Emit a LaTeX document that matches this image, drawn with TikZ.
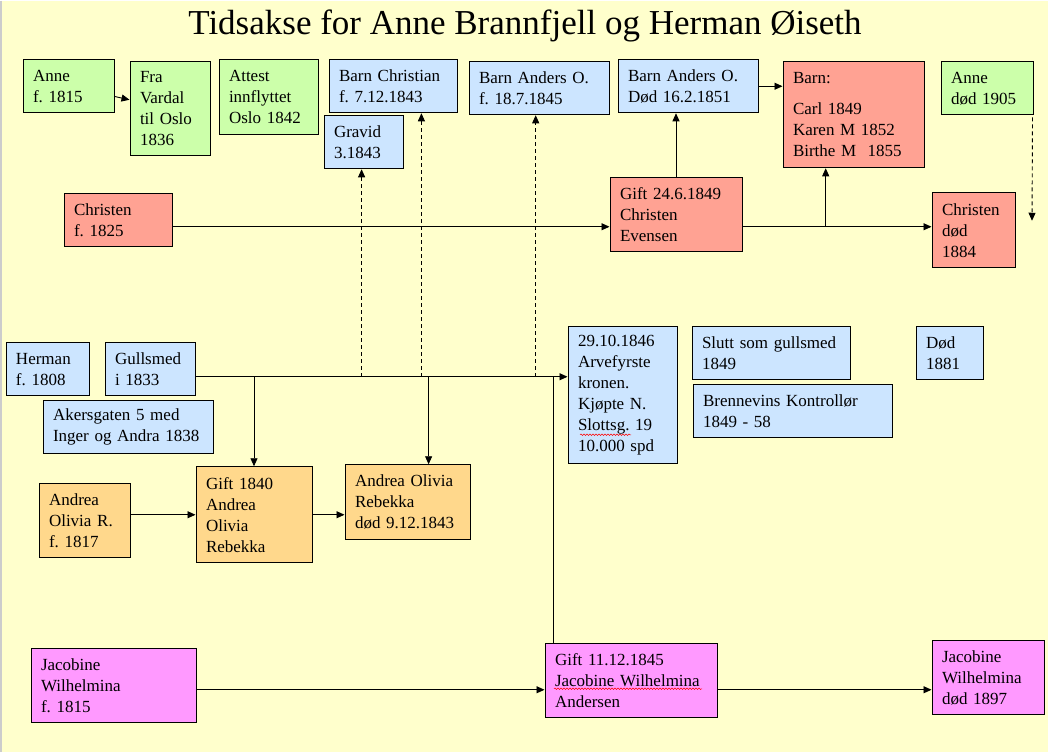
\documentclass[tikz,border=0pt]{standalone}
\usepackage{fontspec}
\setmainfont{Liberation Serif}
\usetikzlibrary{arrows.meta, decorations.pathmorphing}
\frenchspacing
\definecolor{bg}{HTML}{FFFFCC}
\definecolor{lgreen}{HTML}{CCFFAA}
\definecolor{lblue}{HTML}{CCE5FF}
\definecolor{salmon}{HTML}{FFA293}
\definecolor{lorange}{HTML}{FFD88C}
\definecolor{lpink}{HTML}{FF99FF}
\tikzset{evt/.style = {draw, line width = 1pt, rectangle, align = left, inner xsep = 10pt,
    inner ysep = 0pt, font = \fontsize{17}{21}\selectfont},
  sz/.style 2 args = {text width = #1, minimum height = #2},
  gbox/.style = {evt, fill = lgreen}, bbox/.style = {evt, fill = lblue},
  rbox/.style = {evt, fill = salmon}, obox/.style = {evt, fill = lorange},
  mbox/.style = {evt, fill = lpink},
  arr/.style = {line width = 0.9pt, -{Triangle[length = 8pt, width = 7pt]}},
  dasharr/.style = {arr, dash pattern = on 4pt off 3pt},
  squig/.style = {red, line width = 0.5pt, decorate, decoration = {snake, amplitude = 0.8pt, segment length = 3pt}}}

\begin{document}
\begin{tikzpicture}[x=1pt, y=-1pt]
    \fill [bg] (0, 0) rectangle (1048, 751);
    \draw [gray!40, line width = 1.5pt] (0.75, 0) -- (0.75, 751);
    \node (title) at (525, 33.3) [anchor = base, font = \fontsize{35}{40}\selectfont]
      {Tidsakse for Anne Brannfjell og Herman Øiseth};

    % Anne
    \node (anne) at (68.5, 85.5) [gbox, sz = {71pt}{53pt}] {Anne\\f. 1815};
    \node (vardal) at (170, 108) [gbox, sz = {60pt}{94pt}] {Fra\\Vardal\\til Oslo\\1836};
    \node (attest) at (268.5, 96.5) [gbox, sz = {79pt}{75pt}] {Attest\\innflyttet\\Oslo 1842};
    \node (annedod) at (987, 87.5) [gbox, sz = {72pt}{53pt}] {Anne\\død 1905};
    \node (barnchr) at (393, 85.5) [bbox, sz = {108pt}{53pt}] {Barn Christian\\f. 7.12.1843};
    \node (gravid) at (363.5, 141.5) [bbox, sz = {59pt}{53pt}] {Gravid\\3.1843};
    \node (barnand) at (539, 87.5) [bbox, sz = {120pt}{53pt}] {Barn Anders O.\\f. 18.7.1845};
    \node (anddod) at (688, 85.5) [bbox, sz = {120pt}{53pt}] {Barn Anders O.\\Død 16.2.1851};

    % Christen
    \node (christen) at (118, 219.5) [rbox, sz = {88pt}{53pt}] {Christen\\f. 1825};
    \node (gift49) at (676, 214) [rbox, sz = {112pt}{74pt}] {Gift 24.6.1849\\Christen\\Evensen};
    \node (barn) at (853.5, 114) [rbox, sz = {121pt}{106pt}]
      {Barn:\\[10pt]Carl 1849\\Karen M 1852\\Birthe M\ \ 1855};
    \node (chrdod) at (973.5, 229.5) [rbox, sz = {63pt}{75pt}] {Christen\\død\\1884};

    % Herman
    \node (herman) at (47.5, 368.5) [bbox, sz = {63pt}{53pt}] {Herman\\f. 1808};
    \node (gullsmed) at (150, 368.5) [bbox, sz = {70pt}{53pt}] {Gullsmed\\i 1833};
    \node (akers) at (128, 426.5) [bbox, sz = {150pt}{53pt}] {Akersgaten 5 med\\Inger og Andra 1838};
    \node (arve) at (622.5, 394.5) [bbox, sz = {89pt}{137pt}]
      {29.10.1846\\Arvefyrste\\kronen.\\Kjøpte N.\\Slottsg. 19\\10.000 spd};
    \node (slutt) at (771, 352.5) [bbox, sz = {138pt}{53pt}] {Slutt som gullsmed\\1849};
    \node (brenn) at (792.5, 410.5) [bbox, sz = {179pt}{53pt}] {Brennevins Kontrollør\\1849 - 58};
    \node (dod) at (949.5, 352.5) [bbox, sz = {47pt}{53pt}] {Død\\1881};

    % Andrea og Jacobine
    \node (andreaf) at (84.5, 520) [obox, sz = {71pt}{74pt}] {Andrea\\Olivia R.\\f. 1817};
    \node (gift40) at (254, 514) [obox, sz = {96pt}{96pt}] {Gift 1840\\Andrea\\Olivia\\Rebekka};
    \node (andreadod) at (407.5, 501.5) [obox, sz = {105pt}{75pt}] {Andrea Olivia\\Rebekka\\død 9.12.1843};
    \node (jacf) at (113.5, 685) [mbox, sz = {145pt}{74pt}] {Jacobine\\Wilhelmina\\f. 1815};
    \node (gift45) at (631, 680) [mbox, sz = {152pt}{74pt}] {Gift 11.12.1845\\Jacobine Wilhelmina\\Andersen};
    \node (jacdod) at (988, 677) [mbox, sz = {92pt}{74pt}] {Jacobine\\Wilhelmina\\død 1897};
    \draw [squig] (580, 434) -- (631, 434);
    \draw [squig] (554, 688) -- (702, 688);

    % levels of the time lines
    \coordinate (lineC) at (0, 226);
    \coordinate (lineH) at (0, 376);
    \coordinate (lineJ) at (0, 689);
    \coordinate (br) at (825.7, 226);
    \coordinate (d2) at (428.6, 376);
    \coordinate (u1) at (361.6, 376);
    \coordinate (u2) at (421.4, 376);
    \coordinate (u3) at (535.7, 376);
    \coordinate (v1) at (553, 376);
    \coordinate (annedodend) at (1032, 220);

    \draw [arr] (anne) -- (vardal);
    \draw [arr] (christen.east |- lineC) -- (gift49.west |- lineC);
    \draw [arr] (gift49.north) -- (gift49.north |- anddod.south);
    \draw [arr] (anddod.east) -- (anddod.east -| barn.west);
    \draw [arr] (gift49.east |- lineC) -- (chrdod.west |- lineC);
    \draw [arr] (br) -- (br |- barn.south);
    \draw [dasharr] ([xshift = -1pt, yshift = -2pt]annedod.south east) -- (annedodend);

    \draw [arr] (gullsmed.east |- lineH) -- (arve.west |- lineH);
    \draw [arr] (gift40.north |- lineH) -- (gift40.north);
    \draw [arr] (d2) -- (d2 |- andreadod.north);
    \draw [dasharr] (u1) -- (u1 |- gravid.south);
    \draw [dasharr] (u2) -- (u2 |- barnchr.south);
    \draw [dasharr] (u3) -- (u3 |- barnand.south);
    \draw [line width = 0.9pt] (v1) -- (v1 |- gift45.north);

    \draw [arr] (andreaf.east |- gift40.west) -- (gift40.west);
    \draw [arr] (gift40.east) -- (gift40.east -| andreadod.west);
    \draw [arr] (jacf.east |- lineJ) -- (gift45.west |- lineJ);
    \draw [arr] (gift45.east |- lineJ) -- (jacdod.west |- lineJ);
  \end{tikzpicture}
\end{document}
